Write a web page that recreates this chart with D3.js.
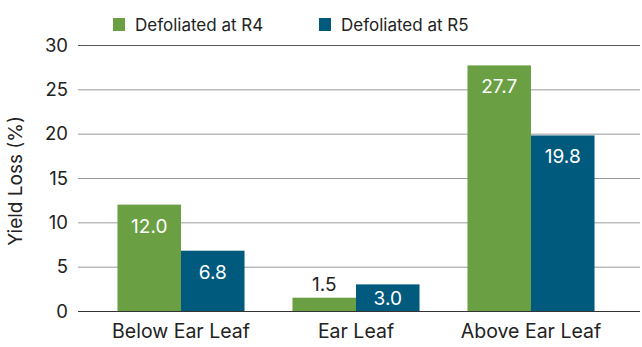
<!DOCTYPE html>
<html><head><meta charset="utf-8">
<script src="https://cdn.jsdelivr.net/npm/d3@7"></script>
<style>body{margin:0;background:#fff}svg{display:block}text{font-family:Inter,"Noto Sans",sans-serif;fill:#222}</style>
</head><body><svg id="c" width="642" height="347"></svg>
<script>
const categories = ["Below Ear Leaf", "Ear Leaf", "Above Ear Leaf"];
const seriesNames = ["Defoliated at R4", "Defoliated at R5"];
const r4 = [12.0, 1.5, 27.7];
const r5 = [6.8, 3.0, 19.8];
const yTicks = [0, 5, 10, 15, 20, 25, 30];
const colors = ["#6a9f43", "#005a7d"];

const svg = d3.select("#c");
const y = d3.scaleLinear().domain([0, 30]).range([311, 45]);
const x = d3.scaleBand().domain(categories).range([93.5, 618.5]).paddingInner(0.274).paddingOuter(0.137);
const xs = d3.scaleBand().domain(seriesNames).range([0, x.bandwidth()]);

// gridlines
svg.append("g").selectAll("line").data(yTicks).join("line")
  .attr("x1", 78).attr("x2", 640)
  .attr("y1", d => y(d) + 0.5).attr("y2", d => y(d) + 0.5)
  .attr("stroke", d => d === 0 ? "#333" : (d === 30 ? "#555" : "#9a9a9a")).attr("stroke-width", 1);

// y tick labels
svg.append("g").selectAll("text").data(yTicks).join("text")
  .attr("x", 68).attr("y", d => y(d)).attr("dy", "0.36em")
  .attr("text-anchor", "end").attr("font-size", 18.5).text(d => d);

// y title
svg.append("text").attr("transform", "translate(22,181) rotate(-90)")
  .attr("text-anchor", "middle").attr("font-size", 19).text("Yield Loss (%)");

const data = categories.map((c, i) => ({c, vals: [r4[i], r5[i]]}));
const g = svg.append("g").selectAll("g").data(data).join("g")
  .attr("transform", d => `translate(${x(d.c)},0)`);
g.selectAll("rect").data(d => d.vals.map((v, j) => ({v, s: seriesNames[j], j}))).join("rect")
  .attr("x", d => xs(d.s)).attr("width", xs.bandwidth())
  .attr("y", d => y(d.v)).attr("height", d => y(0) - y(d.v))
  .attr("fill", d => colors[d.j]);
g.selectAll("text").data(d => d.vals.map((v, j) => ({v, s: seriesNames[j], j}))).join("text")
  .attr("x", d => xs(d.s) + xs.bandwidth() / 2)
  .attr("y", d => d.v < 2 ? y(d.v) - 7 : Math.min(y(d.v) + 28, y(0) - 6))
  .attr("text-anchor", "middle").attr("font-size", 19)
  .style("fill", d => d.v < 2 ? "#222" : "#fff")
  .text(d => d.v.toFixed(1));

// category labels
svg.append("g").selectAll("text").data(categories).join("text")
  .attr("x", d => x(d) + x.bandwidth() / 2).attr("y", 338)
  .attr("text-anchor", "middle").attr("font-size", 19.5).text(d => d);

// legend
const legX = [113, 319];
const lg = svg.append("g").selectAll("g").data(seriesNames).join("g")
  .attr("transform", (d, i) => `translate(${legX[i]},0)`);
lg.append("rect").attr("x", 0).attr("y", 18).attr("width", 12).attr("height", 13)
  .attr("fill", (d, i) => colors[i]);
lg.append("text").attr("x", 22).attr("y", 31).attr("font-size", 17).text(d => d);
</script></body></html>
